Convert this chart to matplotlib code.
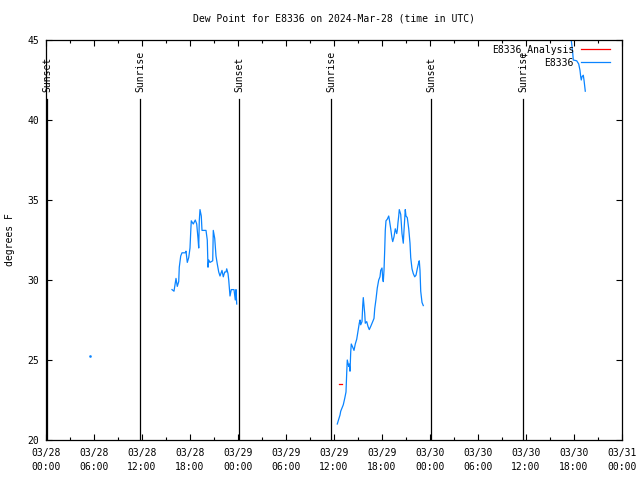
import numpy as np
import matplotlib
matplotlib.use("Agg")
import matplotlib.pyplot as plt

plt.rcParams['font.family'] = ['DejaVu Sans Mono']
plt.rcParams['font.size'] = 7

# hours since 03/28 00:00 UTC
dot_t = [5.5]
dot_v = [25.25]

seg1_t = [15.75, 16.0, 16.25, 16.41, 16.59, 16.66, 16.84, 17.0, 17.41, 17.5,
          17.66, 17.84, 18.0, 18.09, 18.16, 18.41, 18.66, 18.84, 19.0, 19.09,
          19.16, 19.25, 19.41, 19.5, 20.0, 20.16, 20.25, 20.34, 20.5, 20.84,
          20.91, 21.09, 21.25, 21.41, 21.59, 21.75, 22.0, 22.16, 22.34, 22.5,
          22.59, 22.75, 22.84, 23.0, 23.16, 23.5, 23.66, 23.75, 23.84]
seg1_v = [29.4, 29.3, 30.1, 29.6, 29.9, 30.8, 31.5, 31.7, 31.7, 31.8,
          31.1, 31.4, 32.0, 33.0, 33.7, 33.5, 33.75, 33.5, 32.6, 32.0,
          33.7, 34.4, 34.0, 33.1, 33.1, 32.5, 30.8, 31.25, 31.1, 31.2,
          33.1, 32.6, 31.5, 31.0, 30.5, 30.25, 30.6, 30.2, 30.5, 30.5,
          30.7, 30.4, 30.0, 29.0, 29.4, 29.4, 28.75, 29.4, 28.5]

seg2_t = [36.41, 36.59, 36.75, 36.84, 37.0, 37.16, 37.34, 37.5, 37.59, 37.66,
          37.84, 37.91, 38.0, 38.09, 38.16, 38.34, 38.5, 38.66, 38.84, 39.0,
          39.16, 39.25, 39.34, 39.5, 39.59, 39.66, 39.84, 39.91, 40.09, 40.25,
          40.41, 40.59, 40.84, 41.0, 41.09, 41.25, 41.41, 41.59, 41.75, 41.84,
          42.0, 42.09, 42.16, 42.25, 42.34, 42.41, 42.5, 42.66, 42.84, 42.91,
          43.09, 43.25, 43.34, 43.5, 43.66, 43.84, 43.91, 44.0, 44.09, 44.16,
          44.34, 44.5, 44.66, 44.75, 44.91, 45.0, 45.16, 45.34, 45.5, 45.59,
          45.75, 45.91, 46.09, 46.25, 46.41, 46.59, 46.66, 46.75, 46.84, 47.0,
          47.16]
seg2_v = [21.0, 21.3, 21.56, 21.8, 22.0, 22.2, 22.6, 23.0, 24.2, 25.0,
          24.6, 24.75, 24.3, 25.5, 26.0, 25.8, 25.6, 26.0, 26.3, 26.8,
          27.3, 27.5, 27.2, 27.4, 28.4, 28.9, 27.9, 27.3, 27.4, 27.1,
          26.9, 27.1, 27.4, 27.6, 28.2, 28.8, 29.5, 30.0, 30.2, 30.6,
          30.75, 30.1, 29.9, 30.6, 31.9, 33.1, 33.7, 33.8, 34.0, 33.8,
          33.2, 32.6, 32.4, 32.7, 33.2, 32.9, 33.1, 33.6, 34.0, 34.4,
          34.1, 32.9, 32.3, 33.1, 34.4, 34.0, 33.9, 33.2, 32.3, 31.4,
          30.7, 30.4, 30.2, 30.3, 30.7, 31.1, 31.2, 30.6, 29.3, 28.6,
          28.4]

seg3_t = [65.54, 65.84, 65.91, 66.34, 66.59, 66.75, 66.84, 66.91, 67.0, 67.16, 67.25, 67.41]
seg3_v = [45.5, 44.2, 43.75, 43.7, 43.5, 43.1, 42.7, 42.5, 42.7, 42.8, 42.5, 41.8]

anal_t = [36.66, 37.0]
anal_v = [23.5, 23.5]

sun_t = [0.125, 11.75, 24.125, 35.625, 48.125, 59.625]
sun_lab = ['Sunset', 'Sunrise', 'Sunset', 'Sunrise', 'Sunset', 'Sunrise']

xticks = list(range(0, 73, 6))
xlabels = ['03/28\n00:00', '03/28\n06:00', '03/28\n12:00', '03/28\n18:00',
           '03/29\n00:00', '03/29\n06:00', '03/29\n12:00', '03/29\n18:00',
           '03/30\n00:00', '03/30\n06:00', '03/30\n12:00', '03/30\n18:00',
           '03/31\n00:00']

blue = '#0a84ff'
red = '#ff0000'

fig = plt.figure(figsize=(6.4, 4.8), dpi=100)
ax = fig.add_axes([46/640, 40/480, 576/640, 400/480])

for t in sun_t:
    ax.plot([t, t], [20, 41.3], color='black', lw=0.9)
for t, lab in zip(sun_t, sun_lab):
    ax.text(t, 41.75, lab, rotation=90, ha='center', va='bottom', fontsize=7)

ax.plot(anal_t, anal_v, color=red, lw=0.9, label='E8336_Analysis')
ax.plot(seg1_t, seg1_v, color=blue, lw=0.9, label='E8336')
ax.plot(seg2_t, seg2_v, color=blue, lw=0.9)
ax.plot(seg3_t, seg3_v, color=blue, lw=0.9)
ax.plot(dot_t, dot_v, color=blue, marker='s', markersize=0.8, lw=0)

ax.set_xlim(0, 72)
ax.set_ylim(20, 45)
ax.set_xticks(xticks)
ax.set_xticklabels(xlabels, linespacing=1.5)
ax.set_xticks(list(range(3, 72, 6)), minor=True)
ax.set_yticks([20, 25, 30, 35, 40, 45])
ax.tick_params(direction='in', top=True, right=True, length=4, width=0.8, labelsize=7)
ax.tick_params(axis='x', which='minor', direction='in', top=True, length=2.5, width=0.8)
ax.tick_params(axis='x', pad=6)
ax.tick_params(axis='y', pad=5)
for s in ax.spines.values():
    s.set_linewidth(0.9)

ax.set_title('Dew Point for E8336 on 2024-Mar-28 (time in UTC)', fontsize=7, pad=13)
fig.text(10/640, 240/480, 'degrees F', rotation=90, ha='center', va='center', fontsize=7)

leg = ax.legend(loc='upper right', bbox_to_anchor=(0.979, 0.99), frameon=False,
                markerfirst=False, handlelength=3.0, handletextpad=0.7,
                labelspacing=0.3, borderpad=0, borderaxespad=0, fontsize=7)

fig.savefig('out.png', dpi=100)
